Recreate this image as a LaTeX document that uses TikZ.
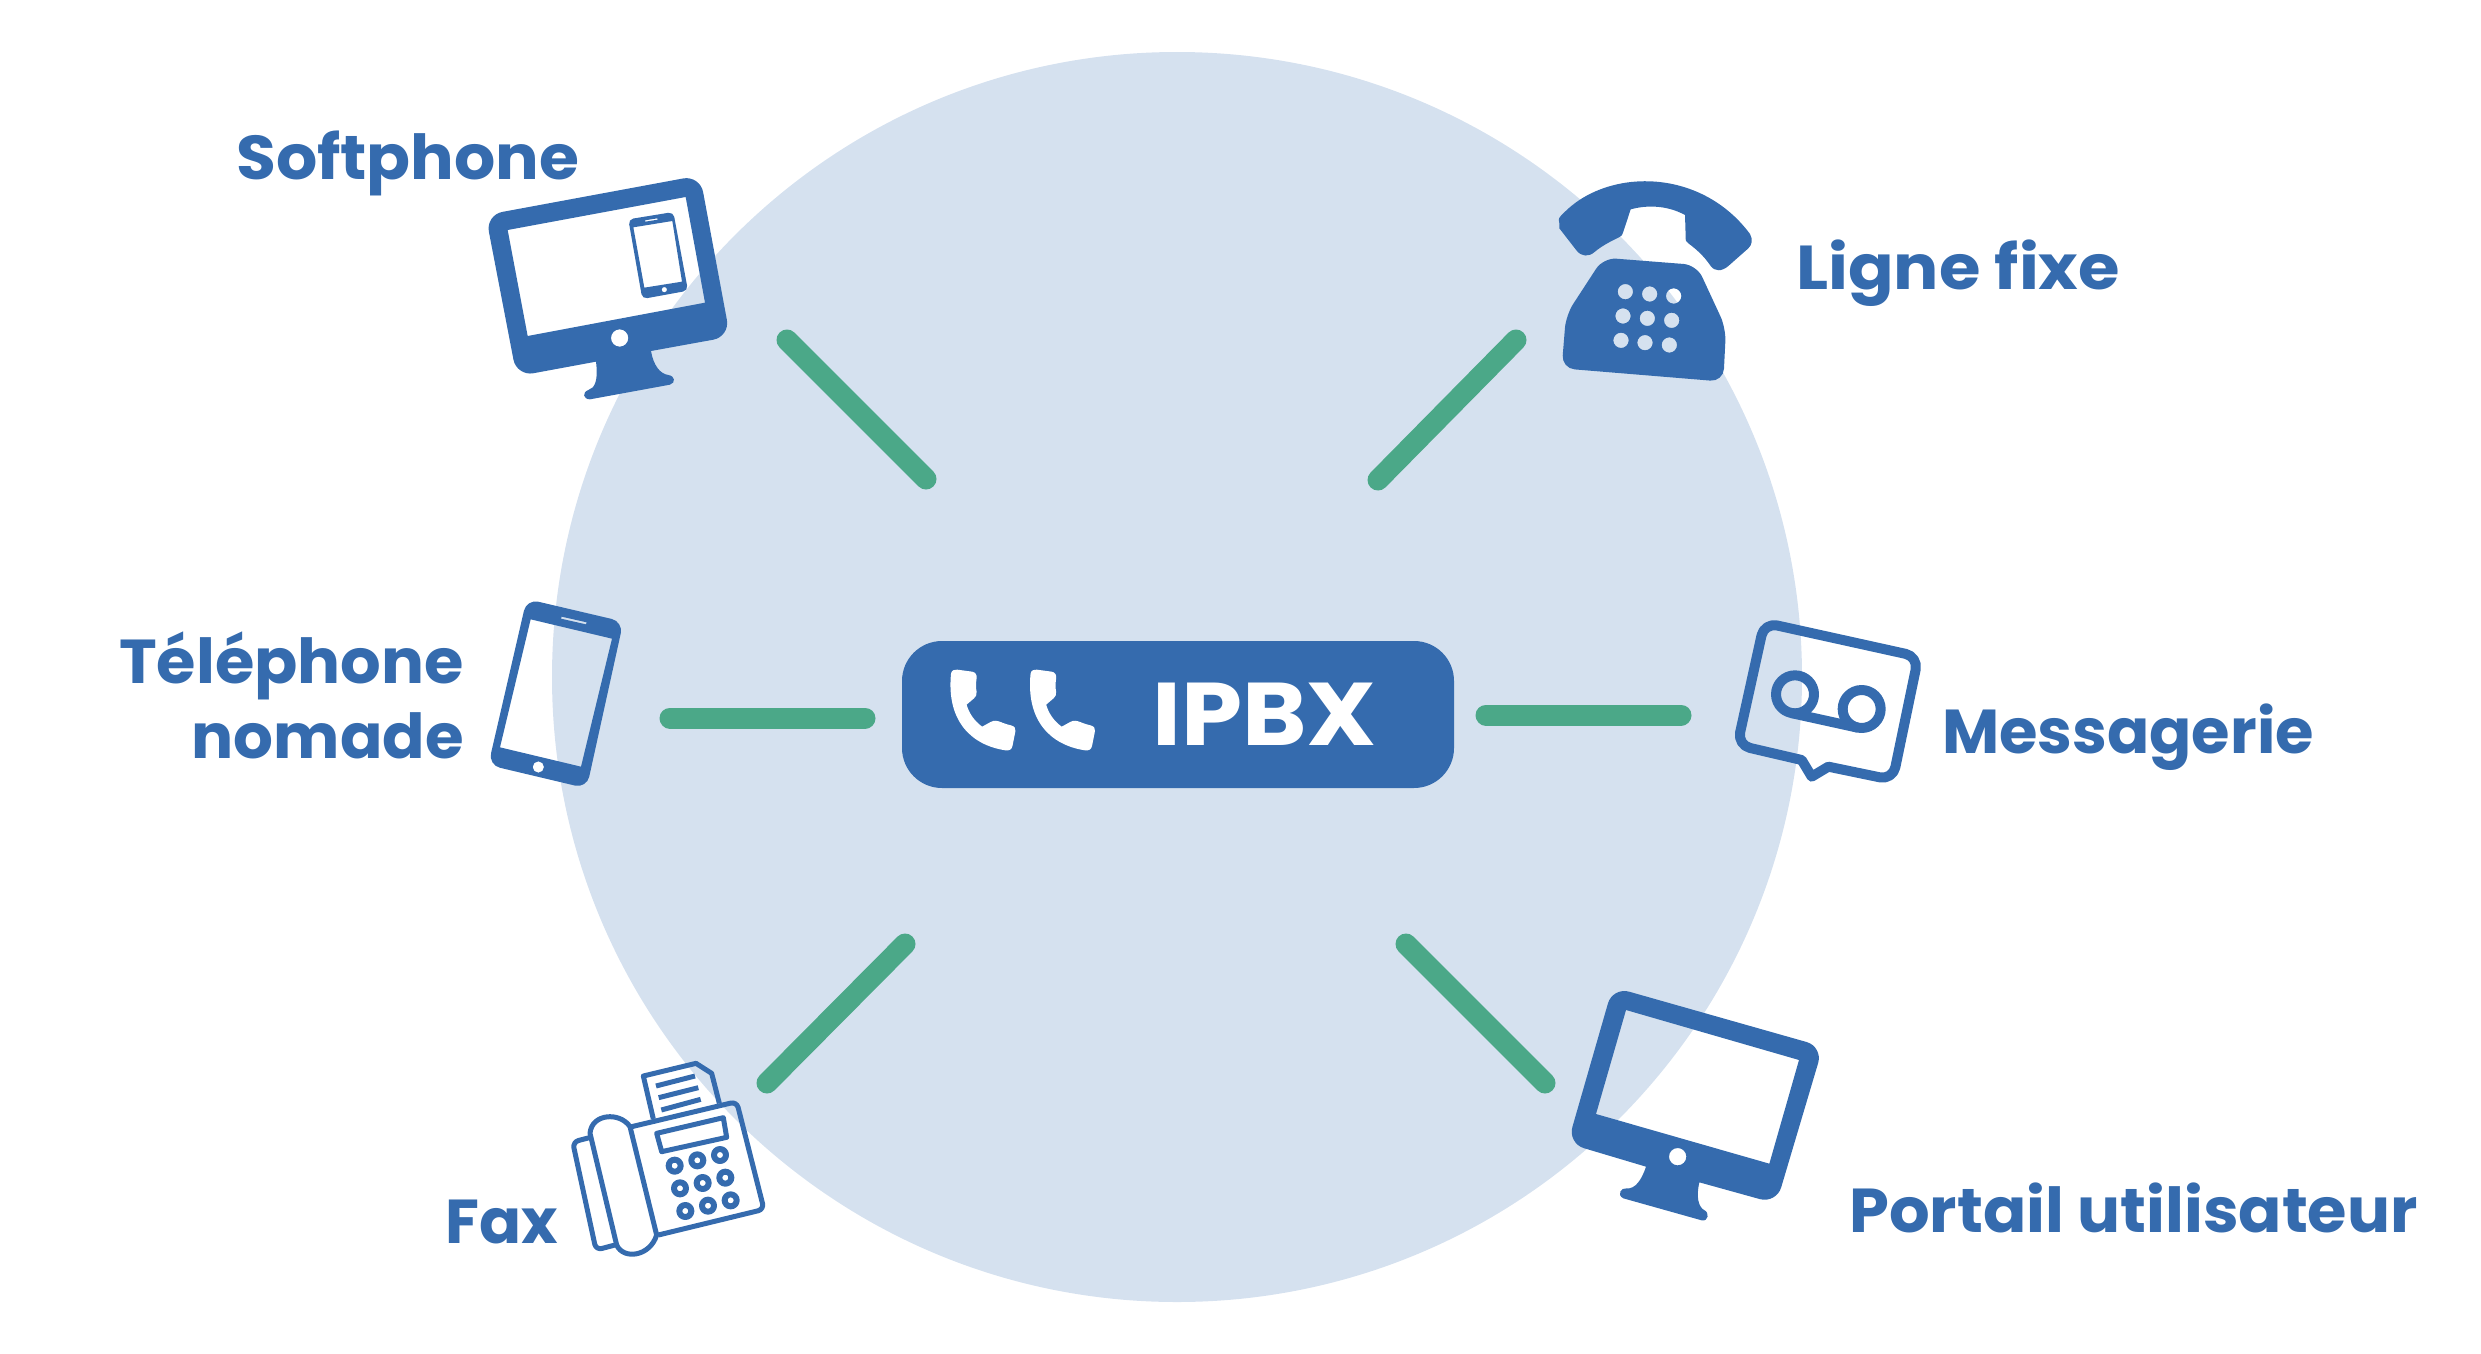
\documentclass[tikz,border=0pt]{standalone}
\usepackage{fontspec}
\setmainfont{Poppins}
\definecolor{ipblue}{HTML}{356BAE}
\definecolor{ipdisc}{HTML}{D5E1EF}
\definecolor{ipgreen}{HTML}{4BA888}
\tikzset{
  label/.style={text=ipblue, font=\fontsize{62}{62}\selectfont\bfseries, inner sep=0pt},
  link/.style={line width=21pt, ipgreen, line cap=round},
  solid icon/.style={fill=ipblue, even odd rule},
  line icon/.style={draw=ipblue, line width=5pt, line join=round}
}
\begin{document}
\begin{tikzpicture}[x=1pt, y=-1pt]
    \useasboundingbox (0,0) rectangle (2481,1354);

    % Draw the disc
    \fill[ipdisc] (1177,677) circle (625);

    % Draw the central box
    \node[fill=ipblue, rounded corners=40pt, minimum width=552pt, minimum height=147pt, inner sep=0pt] (ipbx) at (1178,714.5) {};
    \node[anchor=base west, text=white, font=\fontsize{89}{89}\selectfont\bfseries, inner sep=0pt] (ipbxtext) at (1152,745) {\scalebox{1.10}[1]{IPBX}};
    % Draw the two handsets of the box
    \foreach \dx in {0,215} {
        \fill[white, shift={(900+\dx/2.703,630)}, x=0.37pt, y=-0.3333pt]
            (138,130) .. controls (140,120) and (148,118) .. (155,119)
            -- (195,125) .. controls (205,127) and (208,135) .. (207,145)
            .. controls (205,160) and (205,175) .. (207,185)
            .. controls (208,195) and (205,200) .. (200,205)
            -- (180,224) .. controls (187,250) and (200,272) .. (222,290)
            -- (245,276) .. controls (255,270) and (262,272) .. (272,276)
            .. controls (282,281) and (292,284) .. (300,286)
            .. controls (310,289) and (313,296) .. (312,303)
            -- (304,348) .. controls (302,358) and (295,363) .. (285,361)
            .. controls (190,345) and (125,270) .. (138,130) -- cycle;
    }

    % Draw the green links
    \coordinate (softA) at (787,340);  \coordinate (softB) at (926,479);
    \coordinate (fixeA) at (1516,340); \coordinate (fixeB) at (1378,480);
    \coordinate (nomaA) at (670,718);  \coordinate (nomaB) at (865,718);
    \coordinate (messA) at (1486,715); \coordinate (messB) at (1681,715);
    \coordinate (faxA) at (905,944);   \coordinate (faxB) at (767,1083);
    \coordinate (portA) at (1406,944); \coordinate (portB) at (1545,1083);
    \draw[link] (softA) -- (softB);
    \draw[link] (fixeA) -- (fixeB);
    \draw[link] (nomaA) -- (nomaB);
    \draw[link] (messA) -- (messB);
    \draw[link] (faxA) -- (faxB);
    \draw[link] (portA) -- (portB);

    % Draw the labels
    \node[label, anchor=base west] (softphone) at (236,179) {\scalebox{1.045}[1]{Sof{}tphone}};
    \node[label, anchor=base west] (lignefixe) at (1796,289) {\scalebox{1.085}[1]{Ligne f{}ixe}};
    \node[label, anchor=base east] (telephone) at (464,683) {\scalebox{1.03}[1]{Téléphone}};
    \node[label, anchor=base east] (nomade) at (464,758) {\scalebox{1.01}[1]{nomade}};
    \node[label, anchor=base west] (messagerie) at (1942,753) {\scalebox{1.005}[1]{Messagerie}};
    \node[label, anchor=base west] (fax) at (445,1243) {Fax};
    \node[label, anchor=base west] (portail) at (1849,1232) {\scalebox{1.03}[1]{Portail utilisateur}};

    % Softphone screen
    \begin{scope}[shift={(460,150)}, scale=1/3]
        \fill[solid icon]
            [rounded corners=17pt] (77,195) -- (720,76) -- (810,560) [sharp corners] -- (573,603)
            .. controls (580,645) and (600,672) .. (625,675)
            .. controls (645,678) and (648,698) .. (630,704)
            -- (390,748) .. controls (370,748) and (365,728) .. (385,720)
            .. controls (405,715) and (415,690) .. (408,635)
            [rounded corners=17pt] -- (170,679) -- cycle
            [sharp corners] (143,240) -- (677,141) -- (735,458) -- (203,558) -- cycle
            (479,564) circle (26);
        \fill[solid icon]
            [rounded corners=5pt] (505,208) -- (640,186) -- (684,422) -- (547,447) -- cycle
            [sharp corners] (520,232) -- (637,213) -- (666,395) -- (553,413) -- cycle
            (555,211) -- (592,205) -- (593,209) -- (556,215) -- cycle
            (613,419) circle (8);
    \end{scope}

    % Desk phone
    \begin{scope}[shift={(1540,160)}, scale=1/3]
        \fill[solid icon]
            (58,190) .. controls (55,175) .. (70,160)
            .. controls (200,25) and (480,20) .. (630,222)
            .. controls (640,240) and (635,255) .. (625,265)
            -- (565,318) .. controls (545,335) and (525,335) .. (512,318)
            .. controls (490,285) and (465,265) .. (445,250)
            .. controls (437,243) .. (437,230)
            -- (435,165) .. controls (380,135) and (320,135) .. (272,148)
            -- (250,215) .. controls (245,228) .. (235,233)
            .. controls (205,247) and (180,262) .. (165,275)
            .. controls (145,292) and (125,290) .. (110,272)
            -- (58,205) -- cycle;
        \fill[solid icon]
            [rounded corners=13pt] (190,293) -- (470,315) -- (558,505) -- (550,665) -- (65,625) -- (78,465) -- cycle
            [sharp corners]
            (256,395) circle (23) (329,402) circle (23) (401,408) circle (23)
            (249,468) circle (23) (322,475) circle (23) (395,481) circle (23)
            (243,541) circle (23) (315,548) circle (23) (388,555) circle (23);
    \end{scope}

    % Mobile phone
    \begin{scope}[shift={(480,590)}, scale=1/3]
        \fill[solid icon]
            [rounded corners=12pt] (140,27) -- (430,95) -- (320,595) -- (25,525) -- cycle
            [sharp corners] (152,88) -- (396,146) -- (303,530) -- (60,472) -- cycle
            (245,80) -- (320,97) -- (318,103) -- (243,86) -- cycle
            (175,531) circle (17);
    \end{scope}

    % Voicemail
    \begin{scope}[shift={(1730,610)}, scale=1/3]
        \draw[line icon, line width=10pt, rounded corners=13pt]
            (295,470) -- (488,510) -- (565,140) -- (103,38) -- (22,405) -- (215,450);
        \draw[line icon, line width=10pt, line cap=round] (295,470) -- (245,500) -- (215,450);
        \draw[line icon, line width=10pt] (195,253) circle (57) (395,297) circle (57);
        \draw[line icon, line width=10pt] (183,309) -- (383,353);
    \end{scope}

    % Fax
    \begin{scope}[shift={(560,1050)}, scale=1/3]
        \draw[line icon] (280,207) -- (250,78) -- (408,40) -- (455,70) -- (478,160);
        \draw[line icon] (288,108) -- (405,78) (296,143) -- (415,113) (304,180) -- (422,148);
        \draw[line icon] [rounded corners=6pt] (215,230) -- (530,155) -- (612,478) -- (295,555);
        \draw[line icon] (290,250) -- (490,203) -- (500,262) -- (305,305) -- cycle;
        \foreach \kx/\ky in {344/347,412/331,480/315,360/415,428/399,496/383,376/483,444/467,512/451}
            \draw[line icon, line width=6pt] (\kx,\ky) circle (18);
        \draw[line icon] (90,250) .. controls (95,190) and (180,185) .. (210,230)
            -- (290,555) .. controls (270,620) and (190,630) .. (170,585) -- cycle;
        \draw[line icon] [rounded corners=6pt] (92,262) -- (38,276) -- (108,600) -- (165,585);
    \end{scope}

    % User portal screen
    \begin{scope}[shift={(1560,980)}, scale=1/3]
        \fill[solid icon]
            [rounded corners=17pt] (158,21) -- (789,200) -- (649,671) [sharp corners] -- (418,607)
            .. controls (408,650) and (415,680) .. (432,690)
            .. controls (450,698) and (445,725) .. (425,721)
            -- (190,655) .. controls (170,645) and (182,622) .. (200,625)
            .. controls (225,628) and (245,600) .. (258,560)
            [rounded corners=17pt] -- (23,490) -- cycle
            [sharp corners] (198,90) -- (717,240) -- (628,551) -- (108,402) -- cycle
            (353,530) circle (26);
    \end{scope}
\end{tikzpicture}
\end{document}
